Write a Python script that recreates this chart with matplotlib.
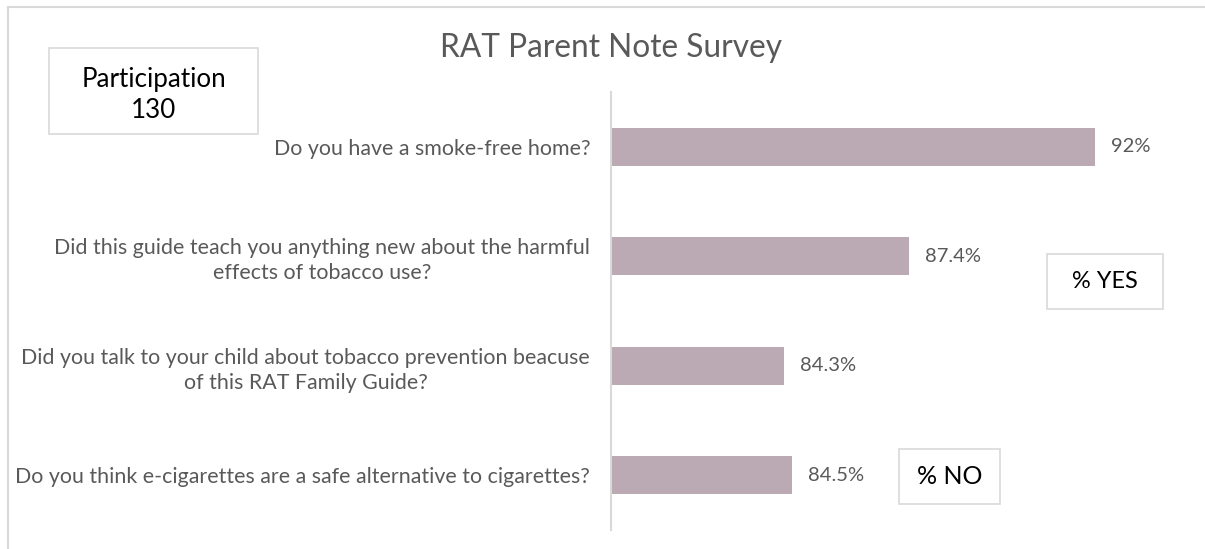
import matplotlib
matplotlib.use("Agg")
import matplotlib.pyplot as plt
from matplotlib.patches import Rectangle
from matplotlib.lines import Line2D

# ---- data ----
questions = [
    "Do you have a smoke-free home?",
    "Did this guide teach you anything new about the harmful\neffects of tobacco use?",
    "Did you talk to your child about tobacco prevention beacuse\nof this RAT Family Guide?",
    "Do you think e-cigarettes are a safe alternative to cigarettes?",
]
values = [92.0, 87.4, 84.3, 84.5]
value_labels = ["92%", "87.4%", "84.3%", "84.5%"]
title = "RAT Parent Note Survey"
participation_text = "Participation\n130"
yes_text = "% YES"
no_text = "% NO"

W, H = 1205, 549
FONT = "Lato"
GRAY_TXT = "#595959"
BORDER = "#d9d9d9"
BAR = "#bbaab3"

fig = plt.figure(figsize=(W / 100, H / 100), dpi=100)
fig.patch.set_facecolor("white")
renderer = fig.canvas.get_renderer()


def fx(px):
    return px / W


def fy(py):
    return 1 - py / H


def fit_size(text, target_px, family=FONT):
    t = fig.text(0, 0, text, fontsize=10, family=family)
    w = t.get_window_extent(renderer).width
    t.remove()
    return 10 * target_px / w


# outer frame (only top and left visible)
fig.add_artist(Line2D([fx(8), fx(1205)], [fy(7), fy(7)], color=BORDER, lw=1.5))
fig.add_artist(Line2D([fx(8), fx(8)], [fy(7), fy(549)], color=BORDER, lw=1.5))

# axes
ax_left, ax_right, ax_top, ax_bot = 611, 1205, 92, 530
ax = fig.add_axes([fx(ax_left), fy(ax_bot), fx(ax_right - ax_left), (ax_bot - ax_top) / H])
ax.set_facecolor("none")
ypos = list(range(len(questions)))
ax.barh(ypos, values, height=0.35, left=0, color=BAR)
ax.set_xlim(80, 80 + (ax_right - ax_left) / 40.3)
ax.set_ylim(len(questions) - 0.5, -0.5)
for s in ["top", "right", "bottom"]:
    ax.spines[s].set_visible(False)
ax.spines["left"].set_color(BORDER)
ax.spines["left"].set_linewidth(1.5)
ax.set_xticks([])
ax.set_yticks(ypos)

q_size = fit_size(questions[3], 573)
ax.set_yticklabels(questions, fontsize=q_size, family=FONT, color=GRAY_TXT)
ax.tick_params(axis="y", length=0, pad=15)
for lbl in ax.get_yticklabels():
    lbl.set_multialignment("center")
    lbl.set_linespacing(1.3)

v_size = fit_size("84.3%", 56)
for y, v, lab in zip(ypos, values, value_labels):
    ax.annotate(lab, xy=(v, y), xytext=(11.5, 0), textcoords="offset points",
                va="center", ha="left", fontsize=v_size, family=FONT, color=GRAY_TXT)

# title
t_size = fit_size(title, 342)
fig.text(fx(611), fy(48), title, ha="center", va="center", fontsize=t_size,
         family=FONT, color=GRAY_TXT)


def box(x0, y0, x1, y1, text, target_w, sample, dy=0.0, ls=1.1):
    fig.add_artist(Rectangle((fx(x0), fy(y1)), fx(x1 - x0), (y1 - y0) / H,
                             facecolor="white", edgecolor=BORDER, lw=1.2))
    s = fit_size(sample, target_w)
    fig.text(fx((x0 + x1) / 2), fy((y0 + y1) / 2 + dy), text, ha="center", va="center",
             fontsize=s, family=FONT, color="black", multialignment="center",
             linespacing=ls)


box(49, 48, 258, 134, participation_text, 145, "Participation", dy=4, ls=1.35)
box(1047, 254, 1163, 309, yes_text, 65, yes_text)
box(899, 449, 1000, 504, no_text, 65, no_text)

fig.savefig("out.png", dpi=100, facecolor="white")
